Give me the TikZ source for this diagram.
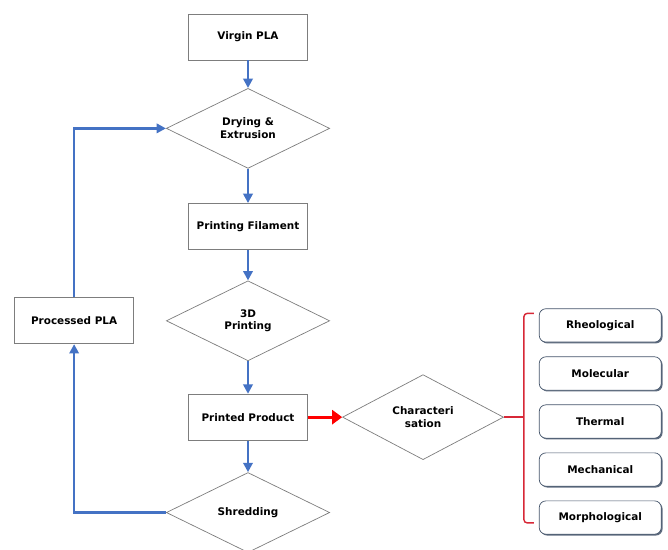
\documentclass[tikz,border=0pt]{standalone}
\usepackage{fontspec}
\setmainfont{DejaVu Sans}
\usepackage{xcolor}
\usepackage{tikz}
\usetikzlibrary{arrows.meta,positioning,shapes.geometric,shadows}
\definecolor{flowblue}{RGB}{68,114,196}
\definecolor{boxgray}{RGB}{125,125,125}
\definecolor{slate}{RGB}{68,84,106}
\definecolor{charred}{RGB}{215,40,55}

\begin{document}
\begin{tikzpicture}[font=\fontsize{8.9}{10.8}\selectfont\bfseries,
   stage/.style={draw=boxgray,line width=0.6pt,fill=white,minimum width=3.57cm,minimum height=1.38cm,
              align=center},
   dec/.style={draw=boxgray,line width=0.6pt,diamond,aspect=2,minimum width=4.9cm,minimum height=2.4cm,
              inner sep=0pt,align=center},
   prop/.style={draw=slate,line width=0.6pt,fill=white,rounded corners=2mm,minimum width=3.66cm,
              minimum height=1.0cm,
              drop shadow={shadow xshift=0.4mm,shadow yshift=-0.4mm,fill=slate,opacity=0.85}},
   flow/.style={-{Triangle[length=2.8mm,width=2.8mm]},line width=2.1pt,draw=flowblue}]
  \useasboundingbox (-7.44,1.11) rectangle (12.6,-15.36);
  \node[stage] (virgin) {Virgin PLA};
  \node[dec,below=8.3mm of virgin] (dry) {Drying \&\\Extrusion};
  \node[stage,below=10.3mm of dry] (fil) {Printing Filament};
  \node[dec,below=9.2mm of fil] (print) {3D\\Printing};
  \node[stage,below=9.8mm of print] (prod) {Printed Product};
  \node[dec,below=9.5mm of prod] (shred) {Shredding};
  \node[stage,left=9.6mm of print] (proc) {Processed PLA};
  \node[dec,right=10.3mm of prod,minimum width=4.83cm,minimum height=2.55cm] (char)
       {Characteri\\sation};
  \node[prop,right=10.5mm of char,yshift=-1.3mm] (therm) {Thermal};
  \node[prop,above=4.2mm of therm] (mol) {Molecular};
  \node[prop,above=4.2mm of mol] (rheo) {Rheological};
  \node[prop,below=4.2mm of therm] (mech) {Mechanical};
  \node[prop,below=4.2mm of mech] (morph) {Morphological};
  \draw[flow] (virgin) -- (dry);
  \draw[flow] (dry) -- (fil);
  \draw[flow] (fil) -- (print);
  \draw[flow] (print) -- (prod);
  \draw[flow] (prod) -- (shred);
  \draw[flow] (shred.west) -| (proc.south);
  \draw[flow] (proc.north) |- (dry.west);
  \draw[-{Triangle[length=3mm,width=4.2mm]},line width=2.8pt,red] (prod) -- (char);
  \coordinate[right=6mm of char.east] (brk);
  \coordinate (btop) at ([xshift=-1.5mm,yshift=-1.5mm]rheo.north west);
  \coordinate (bbot) at ([xshift=-1.5mm,yshift=3.5mm]morph.south west);
  \draw[charred,line width=1.2pt] (char.east) -- (brk);
  \draw[charred,line width=1.2pt,rounded corners=1mm] (btop) -| (brk) |- (bbot);
\end{tikzpicture}
\end{document}
